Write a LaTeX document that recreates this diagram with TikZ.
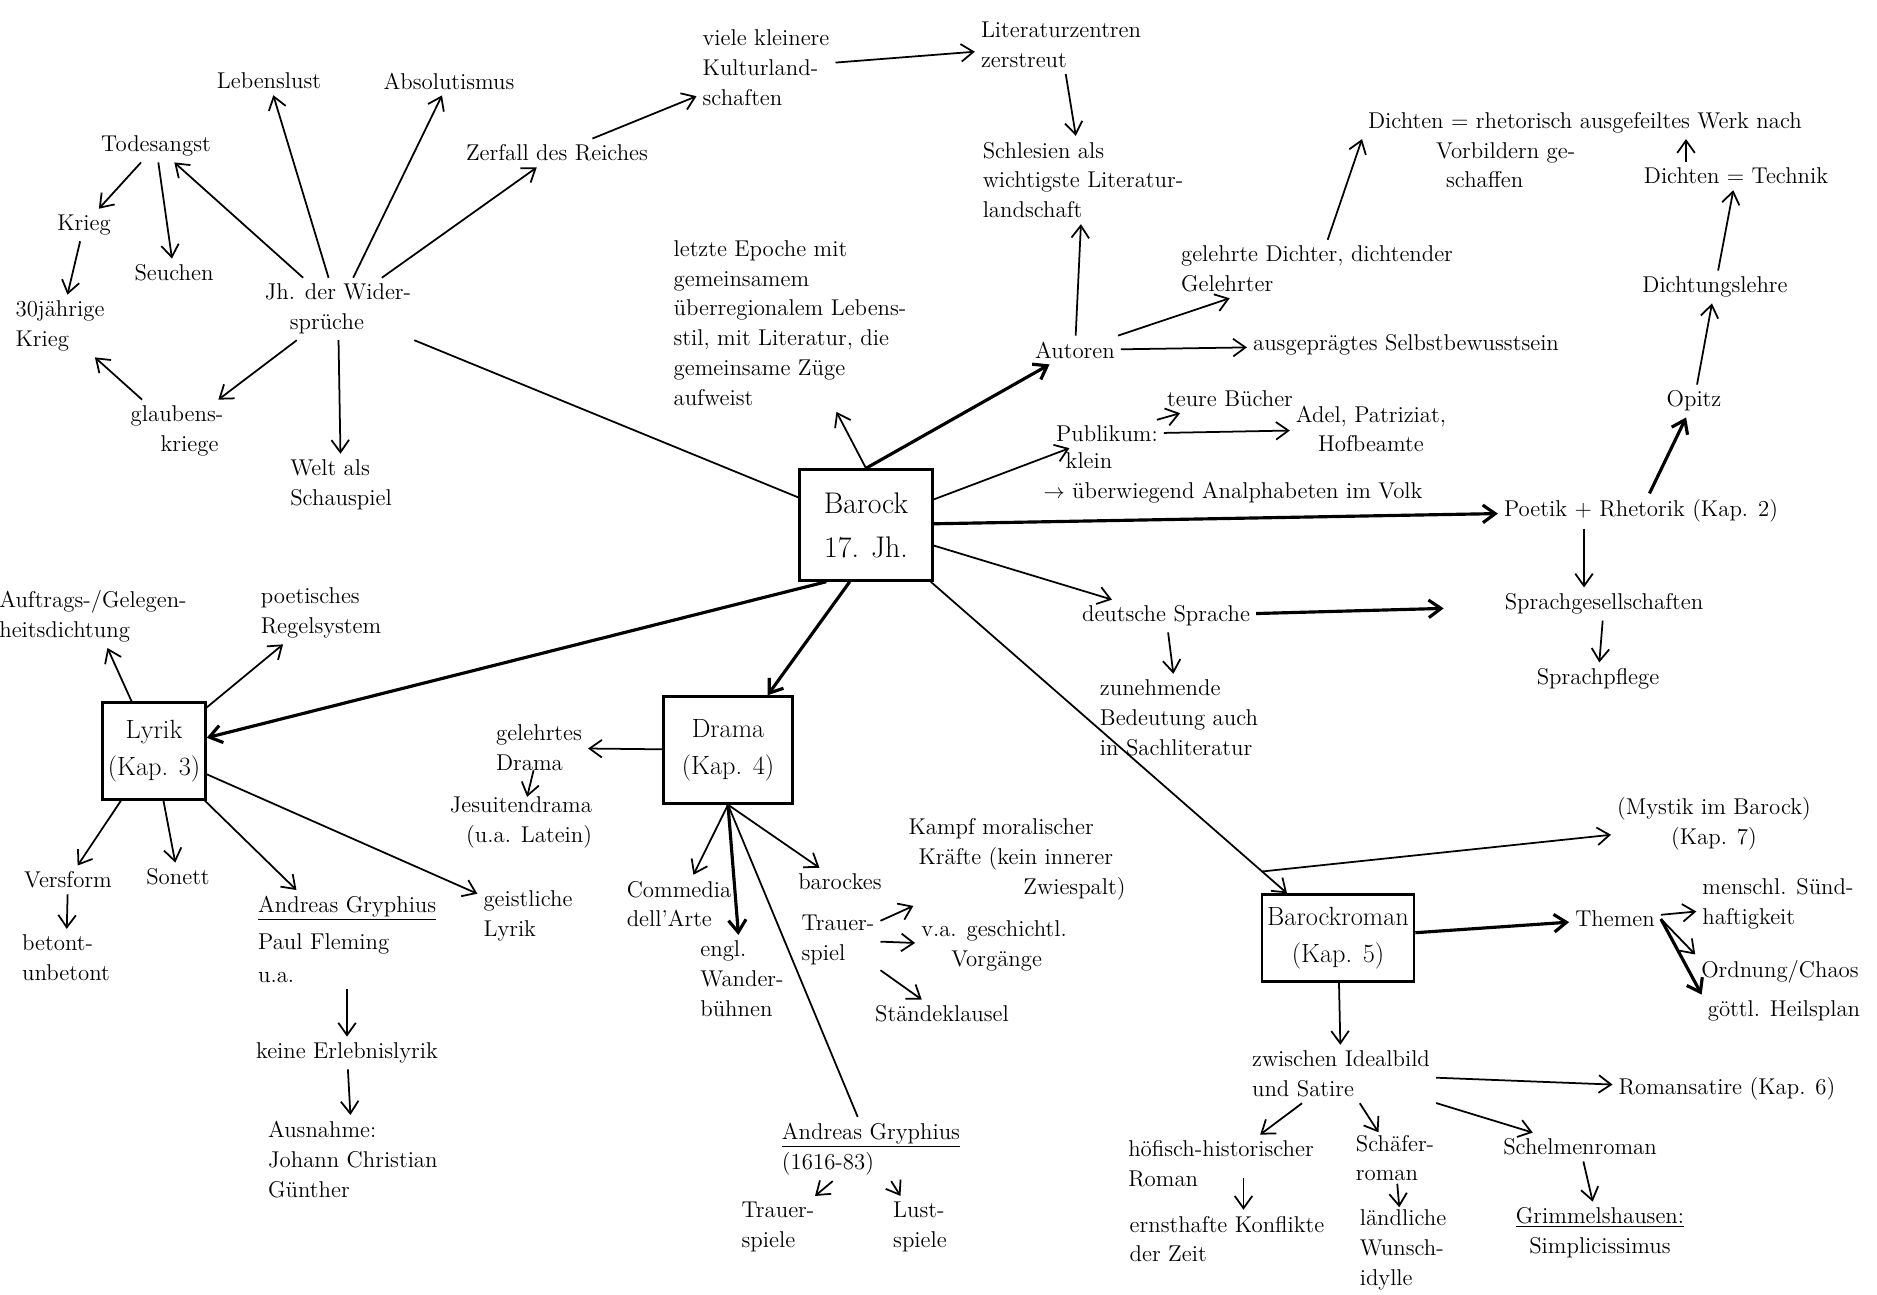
\documentclass[tikz,border=0pt]{standalone}
\usepackage{fontspec}
\usetikzlibrary{arrows.meta,positioning}

\begin{document}
\begin{tikzpicture}[x=0.02cm, y=-0.02cm, line width=1pt,
  every node/.style={font=\fontsize{13}{17}\selectfont, inner sep=3pt},
  note/.style={align=left},
  chapter/.style={draw, line width=1.4pt, align=center, font=\fontsize{15}{21}\selectfont},
  heavy/.style={line width=1.8pt},
  >={Straight Barb[length=7pt, width=10pt]}]
\useasboundingbox (0,0) rectangle (1877,1295);

\node (barock)[chapter, minimum width=2.66cm, minimum height=2.22cm, font=\fontsize{17}{25}\selectfont] at (866,525) {Barock\\17. Jh.};

\node (jh)[note] at (338,309) {Jh. der Wider-\\\hspace{0.5cm}sprüche};
\node (todes) at (156,146) {Todesangst};
\node (krieg) at (84,225) {Krieg};
\node (seuchen) at (174,273) {Seuchen};
\node (dreissig)[note] at (60,326) {30jährige\\Krieg};
\node (leben) at (269,81) {Lebenslust};
\node (absol) at (449,81) {Absolutismus};
\node (zerfall) at (557,153) {Zerfall des Reiches};
\node (glauben)[note] at (177,431) {glaubens-\\\hspace{0.6cm}kriege};
\node (welt)[note] at (341,485) {Welt als\\Schauspiel};

\node (kultur)[note] at (766,68) {viele kleinere\\Kulturland-\\schaften};
\node (zentren)[note] at (1061,45) {Literaturzentren\\zerstreut};
\node (schlesien)[note] at (1083,180) {Schlesien als\\wichtigste Literatur-\\landschaft};
\node (epoche)[note] at (790,323) {letzte Epoche mit\\gemeinsamem\\überregionalem Lebens-\\stil, mit Literatur, die\\gemeinsame Züge\\aufweist};

\node (autoren) at (1075,350) {Autoren};
\node (gelehrt)[note] at (1317,269) {gelehrte Dichter, dichtender\\Gelehrter};
\node (selbst) at (1406,345) {ausgeprägtes Selbstbewusstsein};
\node (rhetor)[anchor=north west] at (1362,106) {Dichten = rhetorisch ausgefeiltes Werk nach};
\node (rhetorb)[note, anchor=north west] at (1430,136) {Vorbildern ge-\\\hspace{0.2cm}schaffen};
\node (technik) at (1736,176) {Dichten = Technik};
\node (lehre) at (1715,287) {Dichtungslehre};
\node (opitz) at (1694,401) {Opitz};

\node (publikum) at (1107,434) {Publikum:};
\node (klein) at (1089,461) {klein};
\node (analph) at (1233,493) {$\rightarrow$ überwiegend Analphabeten im Volk};
\node (teuer) at (1230,399) {teure Bücher};
\node (adel)[align=center] at (1371,429) {Adel, Patriziat,\\Hofbeamte};

\node (poetik) at (1641,511) {Poetik + Rhetorik (Kap. 2)};
\node (sprachges) at (1604,604) {Sprachgesellschaften};
\node (pflege) at (1598,679) {Sprachpflege};
\node (dsprache) at (1166,616) {deutsche Sprache};
\node (zunehm)[note] at (1179,718) {zunehmende\\Bedeutung auch\\in Sachliteratur};

\node (lyrik)[chapter, minimum width=1.84cm, minimum height=1.94cm] at (154,751) {Lyrik\\(Kap. 3)};
\node (auftrag)[note] at (93,616) {Auftrags-/Gelegen-\\heitsdichtung};
\node (regel)[note] at (321,613) {poetisches\\Regelsystem};
\node (versform) at (68,880) {Versform};
\node (betont)[note] at (66,958) {betont-\\unbetont};
\node (sonett) at (178,877) {Sonett};
\node (gryph)[note, anchor=north west] at (252,890) {\underline{Andreas Gryphius}\\[4pt]Paul Fleming\\[2pt]u.a.};
\node (erleb) at (347,1053) {keine Erlebnislyrik};
\node (ausnahme)[note, anchor=north west] at (262,1115) {Ausnahme:\\Johann Christian\\Günther};
\node (geistl)[note] at (528,916) {geistliche\\Lyrik};

\node (drama)[chapter, minimum width=2.58cm, minimum height=2.14cm] at (728,750) {Drama\\(Kap. 4)};
\node (gdrama)[note] at (539,748) {gelehrtes\\Drama};
\node (jesuit)[align=right] at (521,822) {Jesuitendrama\\(u.a. Latein)};
\node (commedia)[note] at (679,904) {Commedia\\dell'Arte};
\node (wander)[note] at (742,979) {engl.\\Wander-\\bühnen};
\node (barockes) at (840,882) {barockes};
\node (trauer)[note] at (838,940) {Trauer-\\spiel};
\node (kampf)[note] at (1017,859) {Kampf moralischer\\\hspace{0.2cm}Kräfte (kein innerer\\\hspace{2.3cm}Zwiespalt)};
\node (geschichtl)[note] at (994,946) {v.a. geschichtl.\\\hspace{0.6cm}Vorgänge};
\node (staende) at (942,1014) {Ständeklausel};
\node (gryph2)[note] at (871,1149) {\underline{Andreas Gryphius}\\(1616-83)};
\node (trspiele)[note] at (778,1227) {Trauer-\\spiele};
\node (lspiele)[note] at (920,1227) {Lust-\\spiele};

\node (roman)[chapter, minimum width=2.98cm, minimum height=1.74cm] at (1338,938) {Barockroman\\(Kap. 5)};
\node (mystik)[align=center] at (1714,824) {(Mystik im Barock)\\(Kap. 7)};
\node (themen) at (1615,919) {Themen};
\node (suende)[note] at (1778,904) {menschl. Sünd-\\haftigkeit};
\node (ordnung) at (1780,972) {Ordnung/Chaos};
\node (heil) at (1784,1011) {göttl. Heilsplan};
\node (zwischen)[note] at (1341,1074) {zwischen Idealbild\\und Satire};
\node (romansat) at (1727,1089) {Romansatire (Kap. 6)};
\node (hoefisch)[note] at (1221,1164) {höfisch-historischer\\Roman};
\node (ernst)[note] at (1227,1239) {ernsthafte Konflikte\\der Zeit};
\node (schaefer)[note, inner sep=1pt] at (1395,1158) {Schäfer-\\roman};
\node (laendl)[note, inner sep=1pt] at (1403,1250) {ländliche\\Wunsch-\\idylle};
\node (schelm) at (1580,1147) {Schelmenroman};
\node (grimm)[align=center] at (1600,1233) {\underline{Grimmelshausen:}\\Simplicissimus};

\draw (barock) -- (jh);
\draw[->] (jh) -- (todes);
\draw[->] (jh) -- (leben);
\draw[->] (jh) -- (absol);
\draw[->] (jh) -- (zerfall);
\draw[->] (jh) -- (glauben);
\draw[->] (jh) -- (welt);
\draw[->] (todes) -- (krieg);
\draw[->] (todes) -- (seuchen);
\draw[->] (krieg) -- (dreissig);
\draw[->] (glauben) -- (dreissig);
\draw[->] (zerfall) -- (kultur);
\draw[->] (kultur) -- (zentren);
\draw[->] (zentren) -- (schlesien);

\draw[->] (barock.north) -- (epoche);
\draw[->, heavy] (barock.north) -- (autoren);
\draw[->] (autoren) -- (schlesien);
\draw[->] (autoren) -- (gelehrt);
\draw[->] (autoren) -- (selbst);
\draw[->] (gelehrt.70) -- (rhetor.south west);
\draw[->] ([xshift=-1cm]technik.north) -- ([xshift=-1cm]technik.north |- rhetor.south);
\draw[->] (lehre) -- (technik);
\draw[->] (opitz) -- (lehre);
\draw[->, heavy] (poetik) -- (opitz);

\draw[->] (barock) -- (publikum);
\draw[->] (publikum) -- (teuer);
\draw[->] (publikum) -- (adel);
\draw[->, heavy] (barock) -- (poetik);
\draw[->] ([xshift=-0.4cm]sprachges.north |- poetik.south) -- ([xshift=-0.4cm]sprachges.north);
\draw[->] (sprachges) -- (pflege);
\draw[->] (barock) -- (dsprache);
\draw[->, heavy, shorten >=1.1cm] (dsprache) -- (sprachges);
\draw[->] (dsprache) -- (zunehm);

\draw[->, heavy] (barock.235) -- (lyrik);
\draw[->] (lyrik) -- (auftrag);
\draw[->] (lyrik) -- (regel);
\draw[->] (lyrik) -- (versform);
\draw[->] (versform) -- (betont);
\draw[->] (lyrik) -- (sonett);
\draw[->] (lyrik) -- (gryph);
\draw[->] (lyrik) -- (geistl);
\draw[->] (gryph) -- (erleb);
\draw[->] (erleb) -- (ausnahme);

\draw[->, heavy] (barock.254) -- (drama);
\draw[->] (drama) -- (gdrama);
\draw[->, shorten <=-4pt, shorten >=-4pt] (gdrama) -- (jesuit);
\draw[->] (drama.south) -- (commedia);
\draw[->, heavy] (drama.south) -- (wander);
\draw[->] (drama.south) -- (barockes);
\draw (drama.south) -- (gryph2);
\draw[->] (trauer) -- (kampf);
\draw[->] (trauer) -- (geschichtl);
\draw[->] (trauer) -- (staende);
\draw[->] (gryph2) -- (trspiele);
\draw[->] (gryph2) -- (lspiele);

\draw[->] (barock) -- coordinate[pos=0.93] (fork) (roman);
\draw[->] (fork) -- (mystik);
\draw[->, heavy] (roman) -- (themen);
\draw[->] (themen) -- (suende);
\draw[->] (themen.east) -- (ordnung.north west);
\draw[->, heavy] (themen.east) -- (heil.north west);
\draw[->] (roman) -- (zwischen);
\draw[->] (zwischen) -- (romansat);
\draw[->] (zwischen) -- (hoefisch);
\draw[->] (zwischen) -- (schaefer);
\draw[->] (zwischen) -- (schelm);
\draw[->] ([xshift=0.45cm, yshift=0.3cm]hoefisch.south) -- ([xshift=0.45cm]hoefisch.south |- ernst.north);
\draw[->] (schaefer) -- (laendl);
\draw[->] (schelm) -- (grimm);
\end{tikzpicture}
\end{document}
